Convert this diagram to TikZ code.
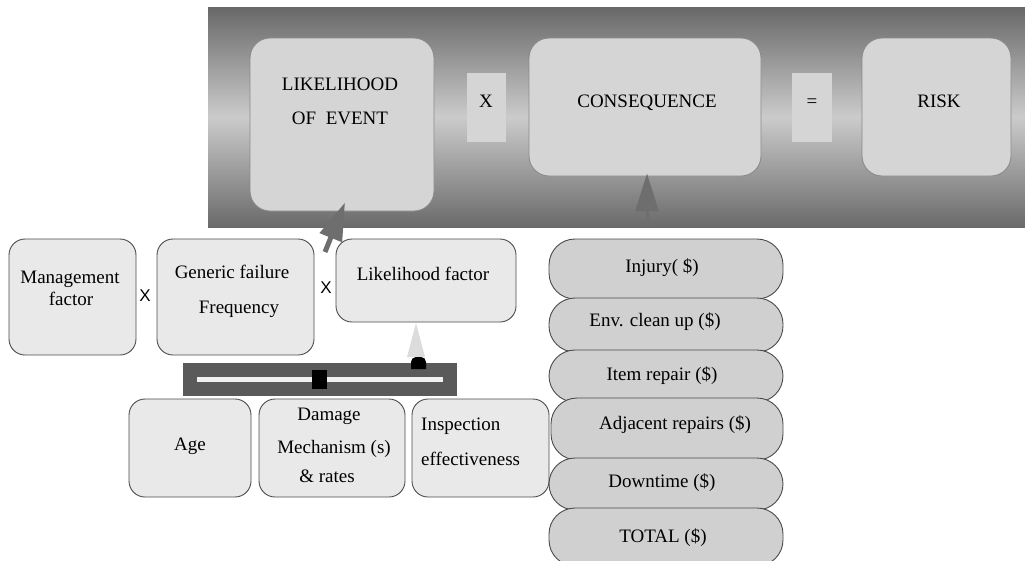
\documentclass[tikz,border=0pt]{standalone}
\usepackage{fontspec}
\setmainfont{Liberation Serif}
\newfontfamily\sansx{Liberation Sans}
\usetikzlibrary{arrows.meta,calc}
\definecolor{lfill}{HTML}{E9E9E9}
\definecolor{lborder}{HTML}{4D4D4D}
\definecolor{tfill}{HTML}{D5D5D5}
\definecolor{tborder}{HTML}{8A8A8A}
\definecolor{sfill}{HTML}{D0D0D0}
\definecolor{sborder}{HTML}{4A4A4A}
\definecolor{arrowgray}{HTML}{6E6E6E}
\definecolor{bandtop}{HTML}{686868}
\definecolor{bandmid}{HTML}{CBCBCB}
\definecolor{bandbot}{HTML}{6A6A6A}
\definecolor{slidedark}{HTML}{5A5A5A}
\definecolor{slidelight}{HTML}{F0F0F0}
\definecolor{conecol}{HTML}{DCDCDC}
\begin{document}
\begin{tikzpicture}[x=1pt,y=-1pt,
  lbox/.style={draw=lborder, fill=lfill, line width=0.9pt, rounded corners=16pt, inner sep=0pt},
  tbox/.style={draw=tborder, fill=tfill, line width=0.9pt, rounded corners=20pt, inner sep=0pt},
  opbox/.style={fill=tfill, inner sep=0pt},
  sbox/.style={draw=sborder, fill=sfill, line width=0.9pt, rounded corners=26pt, inner sep=0pt},
  txt/.style={font=\fontsize{19}{23}\selectfont, inner sep=0pt, anchor=base, text=black},
  ltxt/.style={txt, anchor=base west},
  optxt/.style={font=\sansx\fontsize{17}{20}\selectfont, inner sep=0pt, text=black},
  bigarrow/.style={draw=arrowgray, -{Triangle[length=38pt,width=23pt]}, fill=arrowgray}
]
\clip (0,0) rectangle (1025,560);
\fill[white] (0,0) rectangle (1025,560);

% banner
\node[inner sep=0pt, minimum width=817pt, minimum height=220pt,
      top color=bandtop, bottom color=bandbot, middle color=bandmid] (banner) at (616.5,117) {};

% top boxes
\node[tbox, minimum width=184pt, minimum height=173pt] (lik) at (342,124.5) {};
\node[opbox, minimum width=39pt, minimum height=69pt] (xr) at (486.5,107.5) {};
\node[tbox, minimum width=232pt, minimum height=138pt] (cons) at (645,107) {};
\node[opbox, minimum width=40pt, minimum height=69pt] (eq) at (812,107.5) {};
\node[tbox, minimum width=149pt, minimum height=138pt] (risk) at (936.5,107) {};

\node[txt] (likA) at (340,90) {LIKELIHOOD};
\node[txt] (likB) at (340,124) {OF~ EVENT};
\node[txt] (xrt) at (486,107) {X};
\node[txt] (const) at (647,107) {CONSEQUENCE};
\node[txt] (eqt) at (812,107) {=};
\node[txt] (riskt) at (939,107) {RISK};

% left boxes
\node[lbox, minimum width=127pt, minimum height=116pt] (mgmt) at (72.5,297) {};
\node[lbox, minimum width=157pt, minimum height=116pt] (gen) at (235.5,297) {};
\node[lbox, minimum width=180pt, minimum height=83pt] (lf) at (426,280.5) {};
\node[lbox, minimum width=122pt, minimum height=98pt] (age) at (190,448) {};
\node[lbox, minimum width=146pt, minimum height=98pt] (dmg) at (332,448) {};
\node[lbox, minimum width=137pt, minimum height=98pt] (insp) at (480.5,448) {};

\node[txt] (mgmtA) at (70,283) {Management};
\node[txt] (mgmtB) at (71,305) {factor};
\node[optxt] (x1) at (145,296) {X};
\node[txt] (genA) at (232,278) {Generic failure};
\node[txt] (genB) at (239,313) {Frequency};
\node[optxt] (x2) at (326,288) {X};
\node[txt] (lft) at (423,280) {Likelihood factor};
\node[txt] (aget) at (190,450) {Age};
\node[txt] (dmgA) at (329,420) {Damage};
\node[txt] (dmgB) at (334,453) {Mechanism (s)};
\node[txt] (dmgC) at (327,482) {\& rates};
\node[ltxt] (inspA) at (421,430) {Inspection};
\node[ltxt] (inspB) at (421,465) {effectiveness};

% slider
\fill[conecol] (416,323) -- (425,357) -- (407,357) -- cycle;
\fill[slidedark] (183,363) rectangle (457,396);
\fill[slidelight] (197,377) rectangle (443,382);
\fill[black] (312,370) rectangle (327,389);
\fill[black] (411,369) [rounded corners=5pt] -- (411,357) -- (426,357) [sharp corners] -- (426,369) -- cycle;

% consequence stack
\node[sbox, minimum width=234pt, minimum height=60pt] (inj) at (666,269) {};
\node[sbox, minimum width=234pt, minimum height=54pt] (env) at (666,325) {};
\node[sbox, minimum width=234pt, minimum height=52pt] (item) at (666,376) {};
\node[sbox, minimum width=232pt, minimum height=62pt] (adj) at (667,429) {};
\node[sbox, minimum width=234pt, minimum height=52pt] (down) at (666,484) {};
\node[sbox, minimum width=234pt, minimum height=58pt] (tot) at (666,537) {};

\node[txt] (injt) at (662,272) {Injury( \$)};
\node[txt] (envt) at (655,326) {Env. clean up (\$)};
\node[txt] (itemt) at (662,380) {Item repair (\$)};
\node[txt] (adjt) at (675,429) {Adjacent repairs (\$)};
\node[txt] (downt) at (662,487) {Downtime (\$)};
\node[txt] (tott) at (663,542) {TOTAL (\$)};

% arrows
\coordinate (lftail) at (325,252);
\coordinate (liktip) at ($(lik.south)+(3,-9)$);
\draw[bigarrow, line width=5pt] (lftail) -- (liktip);
\coordinate (constail) at (647,226);
\coordinate (constip) at ($(cons.south)+(2,-3)$);
\draw[bigarrow, line width=3pt] (constail) -- (constip);
\end{tikzpicture}
\end{document}
